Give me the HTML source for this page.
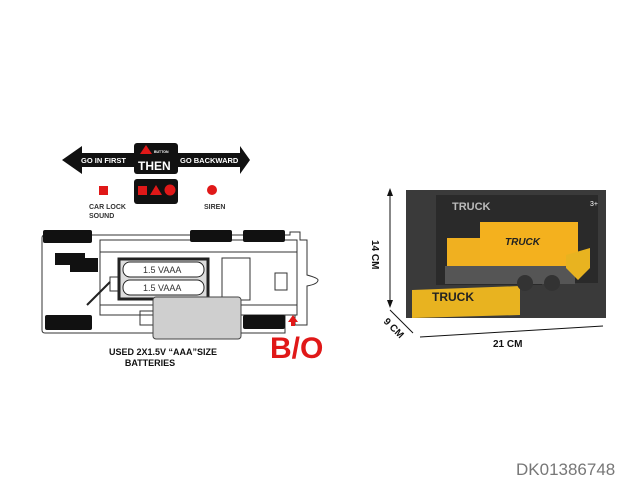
<!DOCTYPE html>
<html><head><meta charset="utf-8"><style>
html,body{margin:0;padding:0;background:#fff;width:640px;height:480px;overflow:hidden}
svg{display:block}
text{font-family:"Liberation Sans",sans-serif}
</style></head><body>
<svg width="640" height="480" viewBox="0 0 640 480">
<!-- double arrow -->
<polygon points="62,160 82,146 82,153 240,153 240,146 250,160 240,174 240,167 82,167 82,174" fill="#111"/>
<rect x="134" y="143" width="44" height="31" rx="3" fill="#111"/>
<text x="81" y="163" font-size="7.5" font-weight="bold" fill="#fff">GO IN FIRST</text>
<text x="180" y="163" font-size="7.5" font-weight="bold" fill="#fff">GO BACKWARD</text>
<polygon points="146,145 140,154 152,154" fill="#e01818"/>
<text x="154" y="153" font-size="3.5" font-weight="bold" fill="#fff">BUTTON</text>
<text x="138" y="170" font-size="12" font-weight="bold" fill="#fff">THEN</text>
<rect x="134" y="179" width="44" height="25" rx="3" fill="#111"/>
<rect x="138" y="186" width="9" height="9" fill="#e01818"/>
<polygon points="156,185 150,195 162,195" fill="#e01818"/>
<circle cx="170" cy="190" r="5.5" fill="#e01818"/>
<rect x="99" y="186" width="9" height="9" fill="#e01818"/>
<circle cx="212" cy="190" r="5" fill="#e01818"/>
<text x="89" y="209" font-size="7" font-weight="bold" fill="#333">CAR LOCK</text>
<text x="89" y="218" font-size="7" font-weight="bold" fill="#333">SOUND</text>
<text x="204" y="209" font-size="7" font-weight="bold" fill="#333">SIREN</text>
<!-- chassis -->
<g fill="none" stroke="#333" stroke-width="1">
<path d="M45,235 H290 V232 H300 V240 H307 L307,275 Q318,278 318,280 Q318,284 307,286 V325 H295 V315 H285 V333 H45 Q42,333 42,330 V238 Q42,235 45,235 Z"/>
<path d="M100,240 H297 V315 H100 Z"/>
<path d="M100,252 H297 M100,305 H297"/>
<rect x="275" y="273" width="12" height="17"/>
<path d="M222,258 H250 V300 H222 Z"/>
<rect x="110" y="277" width="12" height="14"/>
<rect x="140" y="311" width="14" height="14"/>
</g>
<rect x="119" y="259" width="89" height="40" fill="#ddd" stroke="#222" stroke-width="3"/>
<rect x="123" y="262" width="81" height="15" rx="7" fill="#fff" stroke="#222"/>
<rect x="123" y="280" width="81" height="15" rx="7" fill="#fff" stroke="#222"/>
<text x="143" y="273" font-size="9" fill="#333">1.5  VAAA</text>
<text x="143" y="291" font-size="9" fill="#333">1.5  VAAA</text>
<rect x="153" y="297" width="88" height="42" rx="3" fill="#cfcfcf" stroke="#444"/>
<g fill="#111">
<rect x="43" y="230" width="49" height="13" rx="2"/>
<rect x="190" y="230" width="42" height="12" rx="2"/>
<rect x="243" y="230" width="42" height="12" rx="2"/>
<rect x="45" y="315" width="47" height="15" rx="2"/>
<rect x="243" y="315" width="42" height="14" rx="2"/>
<rect x="55" y="253" width="30" height="12"/>
<rect x="70" y="258" width="28" height="14"/>
</g>
<line x1="87" y1="305" x2="110" y2="282" stroke="#222" stroke-width="2"/>
<polygon points="293,315 288,322 298,322" fill="#e01818"/>
<rect x="291" y="322" width="4" height="4" fill="#e01818"/>
<text x="270" y="358" font-size="30" font-weight="bold" fill="#e01818">B/O</text>
<text x="163" y="355" font-size="9" font-weight="bold" fill="#111" text-anchor="middle">USED 2X1.5V “AAA”SIZE</text>
<text x="150" y="366" font-size="9" font-weight="bold" fill="#111" text-anchor="middle">BATTERIES</text>
<!-- box photo -->
<rect x="406" y="190" width="200" height="128" fill="#3a3a3a"/>
<rect x="436" y="195" width="162" height="90" fill="#2a2a2a"/>
<polygon points="412,290 520,286 520,315 412,318" fill="#e8b320"/>
<rect x="542" y="283" width="62" height="33" fill="#3a3a3a"/>
<text x="452" y="210" font-size="11" font-weight="bold" fill="#bbb">TRUCK</text>
<text x="432" y="301" font-size="12" font-weight="bold" fill="#222">TRUCK</text>
<rect x="447" y="238" width="38" height="32" fill="#f0b020"/>
<rect x="480" y="222" width="98" height="48" fill="#f4b11e"/>
<text x="505" y="245" font-size="10" font-weight="bold" font-style="italic" fill="#222">TRUCK</text>
<rect x="445" y="266" width="130" height="18" fill="#555"/>
<circle cx="525" cy="283" r="8" fill="#333"/><circle cx="552" cy="283" r="8" fill="#333"/>
<polygon points="566,255 590,248 590,268 578,280 566,268" fill="#e8b320"/>
<text x="590" y="206" font-size="7" fill="#fff">3+</text>
<!-- dimensions -->
<g stroke="#111" stroke-width="1">
<line x1="390" y1="192" x2="390" y2="305"/>
<line x1="390" y1="310" x2="413" y2="333"/>
<line x1="420" y1="337" x2="603" y2="326"/>
</g>
<polygon points="390,188 387,196 393,196" fill="#111"/><polygon points="390,308 387,300 393,300" fill="#111"/>
<text transform="translate(372,240) rotate(90)" font-size="10" font-weight="bold" fill="#111">14 CM</text>
<text transform="translate(383,322) rotate(45)" font-size="10" font-weight="bold" fill="#111">9 CM</text>
<text x="493" y="347" font-size="10" font-weight="bold" fill="#111">21 CM</text>
<text x="516" y="475" font-size="17" fill="#777">DK01386748</text>
</svg>
</body></html>
